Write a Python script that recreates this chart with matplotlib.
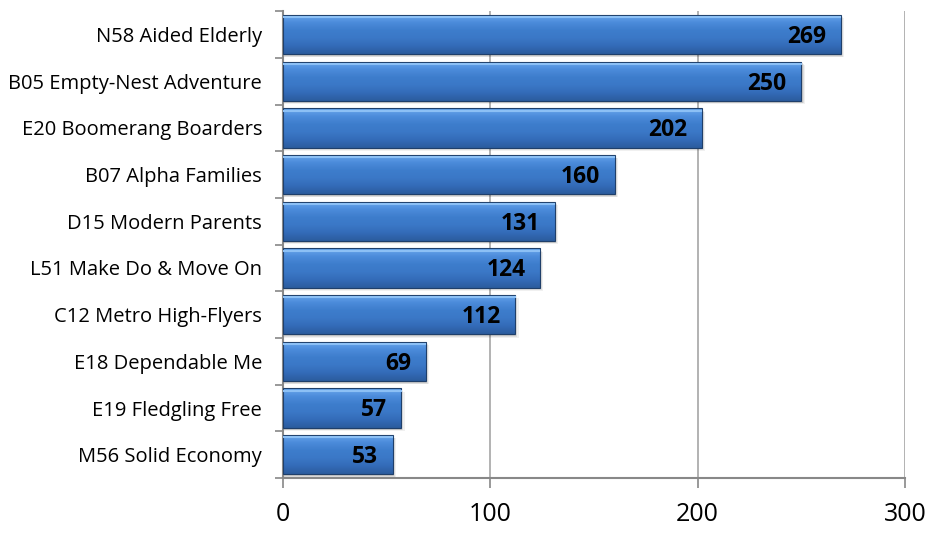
import numpy as np
import matplotlib.pyplot as plt
from matplotlib.patches import Rectangle

plt.rcParams['font.family'] = ['Open Sans', 'DejaVu Sans']

# data
segments = ['N58 Aided Elderly', 'B05 Empty-Nest Adventure', 'E20 Boomerang Boarders',
            'B07 Alpha Families', 'D15 Modern Parents', 'L51 Make Do & Move On',
            'C12 Metro High-Flyers', 'E18 Dependable Me', 'E19 Fledgling Free',
            'M56 Solid Economy']
counts = [269, 250, 202, 160, 131, 124, 112, 69, 57, 53]
xticks = [0, 100, 200, 300]

fig = plt.figure(figsize=(9.31, 5.33), dpi=100)
ax = fig.add_axes([0.304, 0.103, 0.668, 0.876])

n = len(segments)
ypos = np.arange(n)[::-1]
h = 0.84

# vertical gradient for the bars (top light -> bottom dark)
grad = np.array([[0.42, 0.66, 0.93],
                 [0.30, 0.55, 0.86],
                 [0.24, 0.49, 0.80],
                 [0.23, 0.47, 0.78],
                 [0.20, 0.42, 0.72],
                 [0.17, 0.36, 0.62]])
t = np.linspace(0, 1, 64)
img = np.stack([np.interp(t, np.linspace(0, 1, len(grad)), grad[:, k])
                for k in range(3)], axis=-1)[:, None, :]

for y, v in zip(ypos, counts):
    # soft shadow
    for k, a in enumerate([0.10, 0.08, 0.06]):
        d = 0.6 + k * 0.5
        ax.add_patch(Rectangle((0, y - h / 2 - 0.04 - k * 0.015), v + d, h,
                               facecolor='black', alpha=a, edgecolor='none', zorder=2))
    bar = ax.barh(y, v, height=h, color='none', edgecolor='#1f3f6a', linewidth=0.8, zorder=4)[0]
    im = ax.imshow(img, extent=(0, v, y - h / 2, y + h / 2), aspect='auto',
                   origin='upper', zorder=3)
    im.set_clip_path(bar)
    # bevel highlight on top edge
    ax.plot([0.3, v - 0.3], [y + h / 2 - 0.05, y + h / 2 - 0.05], color='#8cc0f5', lw=1.5, zorder=5)
    ax.text(v - 7, y - 0.05, str(v), ha='right', va='center', fontsize=16.5,
            fontweight='bold', color='black', zorder=6)

ax.set_xlim(0, 300)
ax.set_ylim(-0.5, n - 0.5)
ax.set_xticks(xticks)
ax.set_xticklabels([str(t) for t in xticks], fontsize=18)
ax.set_yticks(ypos)
ax.set_yticklabels(segments, fontsize=14.5)
ax.set_yticks(np.arange(-0.5, n, 1), minor=True)
ax.tick_params(axis='y', which='major', length=0, pad=15)
ax.tick_params(axis='y', which='minor', length=6, color='#888888', width=1.2)
ax.tick_params(axis='x', length=7, color='#888888', width=1.2, pad=10)

ax.grid(axis='x', color='#a6a6a6', linewidth=1.2, zorder=0)
ax.set_axisbelow(True)
for s in ['top', 'right']:
    ax.spines[s].set_visible(False)
for s in ['left', 'bottom']:
    ax.spines[s].set_color('#888888')
    ax.spines[s].set_linewidth(1.5)

fig.savefig('out.png', dpi=100)
